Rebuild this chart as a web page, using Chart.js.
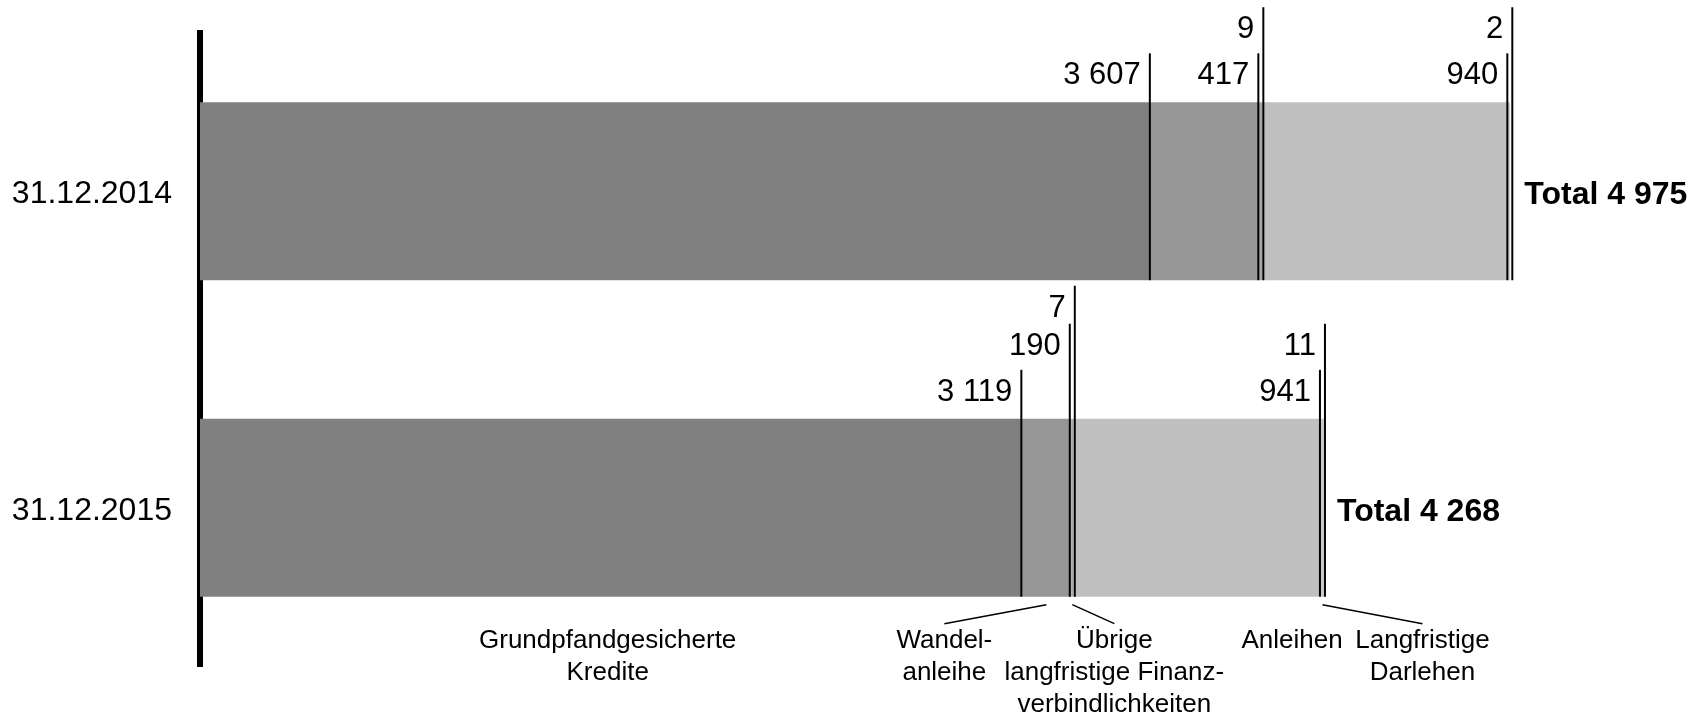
<!DOCTYPE html>
<html>
<head>
<meta charset="utf-8">
<title>Langfristige Finanzverbindlichkeiten</title>
<script src="https://cdn.jsdelivr.net/npm/chart.js@4/dist/chart.umd.min.js"></script>
<style>
  html, body { margin: 0; padding: 0; background: #fff; }
  #wrap { width: 1706px; height: 715px; }
</style>
</head>
<body>
<div id="wrap"><canvas id="chart" width="1706" height="715"></canvas></div>
<script>
// balance sheet dates
const dates = ['31.12.2014', '31.12.2015']

// CHF mn per component, same order as dates
const grundpfand = [3607, 3119]
const wandelanleihe = [417, 190]
const uebrige = [9, 7]
const anleihen = [940, 941]
const darlehen = [2, 11]

const seriesNames = [
  'Grundpfandgesicherte Kredite',
  'Wandelanleihe',
  'Übrige langfristige Finanzverbindlichkeiten',
  'Anleihen',
  'Langfristige Darlehen',
]

const FONT = "'Liberation Sans', Arial, Helvetica, sans-serif"

// how high each value marker rises above its bar (index into rises)
const markerLevels = [
  [0, 0, 1, 0, 1],
  [0, 1, 2, 0, 1],
]
const rises = [49, 95, 133]

// captions under the 2015 bar, anchored on the middle of a segment
const captions = [
  { ds: 0, dx: -3, lines: ['Grundpfandgesicherte', 'Kredite'], leader: false },
  { ds: 1, dx: -102, lines: ['Wandel-', 'anleihe'], leader: true },
  { ds: 2, dx: 42, lines: ['Übrige', 'langfristige Finanz-', 'verbindlichkeiten'], leader: true },
  { ds: 3, dx: 95, lines: ['Anleihen'], leader: false },
  { ds: 4, dx: 100, lines: ['Langfristige', 'Darlehen'], leader: true },
]

function fmt(n) {
  return String(n).replace(/\B(?=(\d{3})+(?!\d))/g, ' ')
}

const markers = {
  id: 'markers',
  afterDatasetsDraw(chart) {
    const ctx = chart.ctx
    const xs = chart.scales.x
    const sets = chart.data.datasets
    ctx.save()
    ctx.strokeStyle = '#000'
    ctx.fillStyle = '#000'

    chart.data.labels.forEach((label, i) => {
      const bar = chart.getDatasetMeta(0).data[i]
      const top = bar.y - bar.height / 2
      const bottom = bar.y + bar.height / 2

      // pixel of each segment end
      let cum = 0
      const px = sets.map((ds) => {
        cum += ds.data[i]
        return xs.getPixelForValue(cum)
      })
      // spread lines of tiny segments so both stay visible
      for (let k = 1; k < px.length; k++) {
        if (px[k] - px[k - 1] < 5) {
          const mid = (px[k] + px[k - 1]) / 2
          px[k - 1] = mid - 2.5
          px[k] = mid + 2.5
        }
      }

      ctx.lineWidth = 2
      ctx.font = '31px ' + FONT
      ctx.textAlign = 'right'
      ctx.textBaseline = 'alphabetic'
      px.forEach((x, k) => {
        const lineTop = top - rises[markerLevels[i][k]]
        ctx.beginPath()
        ctx.moveTo(x, bottom)
        ctx.lineTo(x, lineTop)
        ctx.stroke()
        ctx.fillText(fmt(sets[k].data[i]), x - 9, lineTop + 31)
      })

      const total = sets.reduce((s, ds) => s + ds.data[i], 0)
      ctx.font = 'bold 32px ' + FONT
      ctx.textAlign = 'left'
      ctx.textBaseline = 'alphabetic'
      ctx.fillText('Total ' + fmt(total), px[px.length - 1] + 12, bar.y + 13)
    })

    // captions below the last bar
    const last = chart.data.labels.length - 1
    const bar = chart.getDatasetMeta(0).data[last]
    const bottom = bar.y + bar.height / 2
    ctx.font = '26px ' + FONT
    ctx.textAlign = 'center'
    ctx.textBaseline = 'alphabetic'
    ctx.lineWidth = 1.5
    captions.forEach((c) => {
      let start = 0
      for (let k = 0; k < c.ds; k++) start += sets[k].data[last]
      const mid = xs.getPixelForValue(start + sets[c.ds].data[last] / 2)
      const cx = mid + c.dx
      if (c.leader) {
        ctx.beginPath()
        ctx.moveTo(mid, bottom + 8)
        ctx.lineTo(cx, bottom + 27)
        ctx.stroke()
      }
      c.lines.forEach((t, j) => {
        ctx.fillText(t, cx, bottom + 51 + j * 32)
      })
    })
    ctx.restore()
  },
}

const colors = ['#808080', '#969696', '#a8a8a8', '#c0c0c0', '#cacaca']
const values = [grundpfand, wandelanleihe, uebrige, anleihen, darlehen]

const ctx = document.getElementById('chart').getContext('2d')
const chart = new Chart(ctx, {
  type: 'bar',
  data: {
    labels: dates,
    datasets: values.map((v, k) => ({
      label: seriesNames[k],
      data: v,
      backgroundColor: colors[k],
      borderWidth: 0,
      categoryPercentage: 1,
      barPercentage: 0.562,
    })),
  },
  options: {
    indexAxis: 'y',
    responsive: false,
    animation: false,
    events: [],
    layout: {
      padding: { top: 33, bottom: 49, left: 0, right: 5 },
    },
    plugins: {
      legend: { display: false },
      tooltip: { enabled: false },
    },
    scales: {
      x: {
        display: false,
        stacked: true,
        min: 0,
        max: 5700,
      },
      y: {
        stacked: true,
        afterFit: function (scale) {
          scale.width = 200
          // the axis line runs the full plot height, no room for label overhang
          scale.paddingTop = 0
          scale.paddingBottom = 0
        },
        grid: { display: false, drawTicks: false },
        border: { display: true, color: '#000', width: 6 },
        ticks: {
          color: '#000',
          padding: 28,
          labelOffset: 3,
          font: { family: FONT, size: 32 },
        },
      },
    },
  },
  plugins: [markers],
})
</script>
</body>
</html>
